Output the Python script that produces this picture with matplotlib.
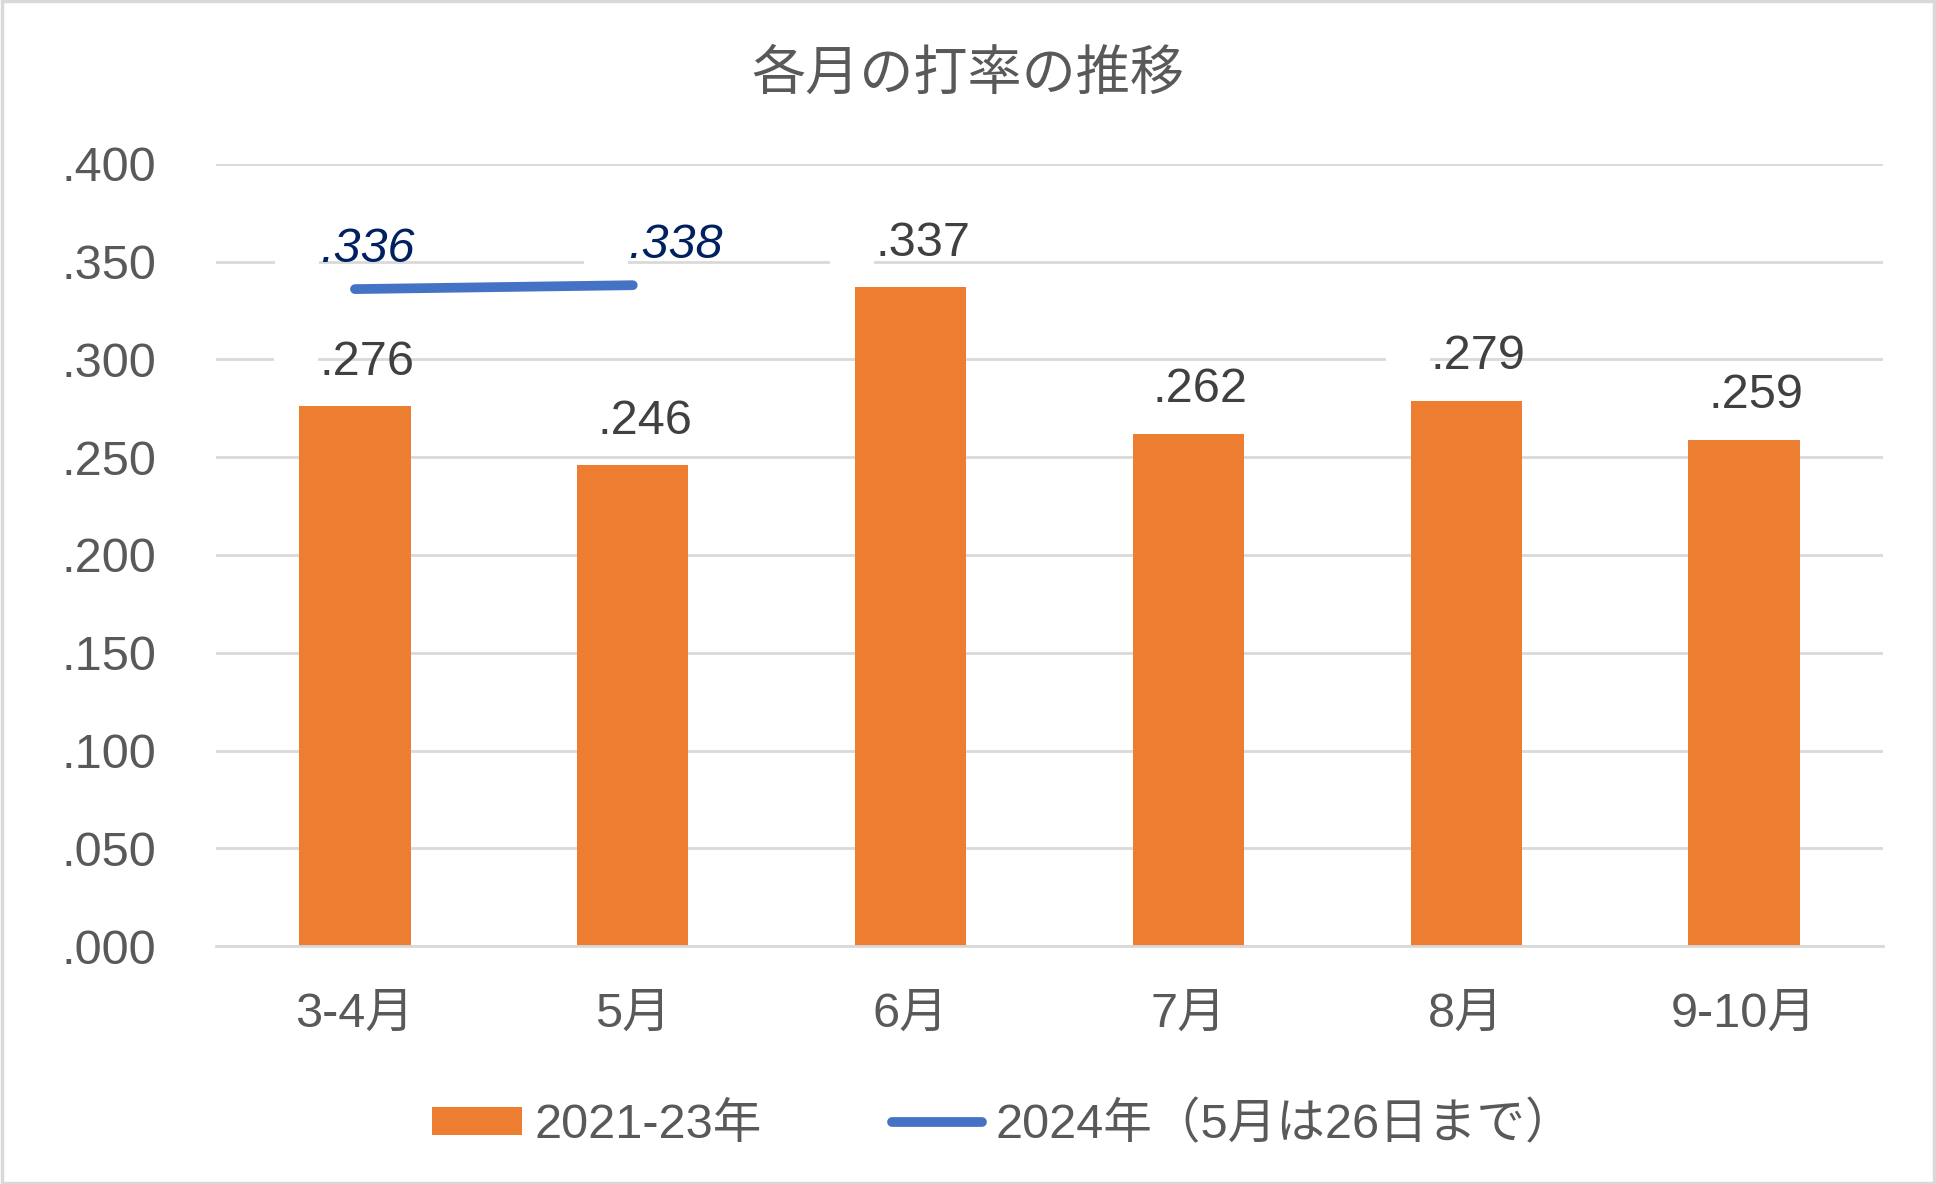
"""Monthly batting average chart"""
import matplotlib
matplotlib.use("Agg")
import matplotlib.pyplot as plt
from matplotlib.patches import Rectangle
from matplotlib.transforms import IdentityTransform

plt.rcParams['font.family'] = ['Liberation Sans', 'Noto Sans CJK JP']

# data
months = ['3-4月', '5月', '6月', '7月', '8月', '9-10月']
avg_2123 = [0.276, 0.246, 0.337, 0.262, 0.279, 0.259]
avg_2024 = [0.336, 0.338]
yticks = [0.0, 0.05, 0.10, 0.15, 0.20, 0.25, 0.30, 0.35, 0.40]

ORANGE = '#ED7D31'
BLUE = '#4472C4'
GRID = '#D9D9D9'
TEXT = '#595959'


def fmt(v):
    """.276 style"""
    return ('%.3f' % v)[1:]


fig = plt.figure(figsize=(19.36, 11.84), dpi=100)
ax = fig.add_axes([0.1116, 0.201, 0.861, 0.6605])

x = range(len(months))
bars = ax.bar(x, avg_2123, width=0.4, color=ORANGE, label='2021-23年', zorder=2)
line, = ax.plot(range(len(avg_2024)), avg_2024, color=BLUE, lw=7,
                solid_capstyle='round', label='2024年（5月は26日まで）', zorder=3)

ax.set_ylim(0, 0.4)
ax.set_xlim(-0.5, len(months) - 0.5)

# labels
labels = []
for i, v in enumerate(avg_2123):
    labels.append(ax.annotate(fmt(v), (i, v), xytext=(12, 44), textcoords='offset pixels',
                              ha='center', va='center', fontsize=35, color='#404040',
                              zorder=4))
shifts = [12, 43]
for i, v in enumerate(avg_2024):
    labels.append(ax.annotate(fmt(v), (i, v), xytext=(shifts[i], 40),
                              textcoords='offset pixels', ha='center', va='center',
                              fontsize=35, color='#002060', style='italic', zorder=4))

ax.set_yticks(yticks)
ax.set_yticklabels([fmt(v) for v in yticks])
ax.set_xticks(list(x))
ax.set_xticklabels(months)
ax.tick_params(axis='y', length=0, pad=43, labelsize=35, labelcolor=TEXT)
ax.tick_params(axis='x', length=0, pad=33, labelsize=35, labelcolor=TEXT)
ax.grid(axis='y', color=GRID, lw=2, zorder=0)
ax.set_axisbelow(True)
for side in ['left', 'right', 'top']:
    ax.spines[side].set_visible(False)
ax.spines['bottom'].set_color(GRID)
ax.spines['bottom'].set_linewidth(2)

fig.text(0.5, 0.936, '各月の打率の推移', ha='center', va='center',
         fontsize=39, color=TEXT)

fig.legend([bars, line], ['2021-23年', '2024年（5月は26日まで）'],
           loc='center', bbox_to_anchor=(0.518, 0.050), ncol=2, frameon=False,
           fontsize=35, labelcolor=TEXT, handlelength=1.85, handleheight=0.5,
           handletextpad=0.27, columnspacing=2.67)

# white label boxes sit a bit left of the text and cut the gridlines there
fig.canvas.draw()
renderer = fig.canvas.get_renderer()
for lab in labels:
    bb = lab.get_window_extent(renderer)
    ax.add_patch(Rectangle((bb.x0 - 45, bb.y0), 44, bb.height, transform=IdentityTransform(),
                           facecolor='white', edgecolor='none', zorder=1, clip_on=False))

fig.patches.append(Rectangle((0.001, 0.001), 0.998, 0.998, transform=fig.transFigure,
                             fill=False, edgecolor=GRID, lw=2.5))

fig.savefig('out.png', dpi=100)
